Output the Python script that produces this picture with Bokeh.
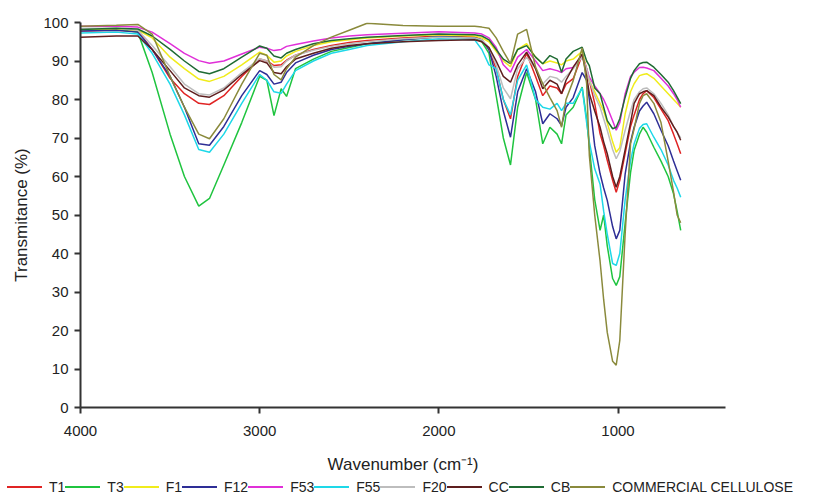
from bokeh.plotting import figure
from bokeh.layouts import column
from bokeh.models import Range1d, FixedTicker, Div
from bokeh.embed import file_html
from bokeh.resources import INLINE

# Wavenumber grid (cm^-1)
WN = [4000, 3800, 3680, 3600, 3500, 3420, 3340, 3280, 3200, 3100,
      3000, 2960, 2920, 2880, 2850, 2800, 2700, 2600, 2500, 2400,
      2200, 2000, 1800, 1760, 1720, 1680, 1640, 1600, 1560, 1510,
      1460, 1420, 1380, 1340, 1315, 1290, 1250, 1200, 1175, 1160,
      1130, 1100, 1080, 1060, 1030, 1010, 990, 960, 930, 910,
      880, 860, 840, 800, 760, 720, 690, 670, 650]

T1 = [97.8, 98, 97.8, 93, 85.5, 81.5, 79, 78.7, 81, 86,
      90.5, 90, 88.8, 89, 90.2, 91.5, 93, 94, 94.8, 95.3,
      96, 96.5, 96.3, 95.5, 93, 88, 80, 75, 86, 92,
      86, 81, 83.5, 83, 81.5, 84, 85.4, 91.5, 88, 84.9,
      79, 71.1, 68, 64.2, 59, 55.9, 59, 66, 73, 76,
      80, 81.5, 82.3, 80.5, 77.5, 74.5, 71, 68.5, 65.9]

T3 = [98.0, 98.2, 97.5, 87, 71, 60, 52.3, 54.3, 63, 74,
      86, 85, 75.8, 82.8, 80.8, 88, 90.5, 92.5, 93.5, 94.5,
      95.5, 96.3, 96, 95, 92, 81, 70, 63, 78, 87,
      80, 68.5, 72.8, 71, 68.5, 76, 78, 83.2, 75, 67.6,
      54, 46, 50, 42, 33.5, 31.7, 34, 48, 61, 66.8,
      71, 72.8, 71.5, 67.6, 64, 60, 55.5, 51, 46]

F1 = [98, 98.3, 98, 96, 91, 88, 85.3, 84.7, 86, 89,
      92.3, 91.5, 89.7, 90, 91.3, 92.5, 94, 95, 95.5, 96,
      96.5, 96.8, 96.5, 96, 95, 92.5, 90, 88.5, 93, 94.5,
      91, 89.3, 90, 89.5, 89, 90, 90.5, 92.5, 88, 84.9,
      82, 79, 77, 74, 69, 66.3, 67.5, 76.3, 82, 84.1,
      86.2, 86.5, 86.7, 85.5, 83.5, 81.5, 80, 79, 78]

F12 = [97.8, 98, 97.5, 93, 86, 78, 68.5, 68.1, 73, 81,
       87.5, 86.5, 84, 84.5, 87, 89.5, 91.5, 93, 93.8, 94.5,
       95.5, 96.3, 96, 95.5, 93, 86, 77, 70.2, 82, 88,
       82, 73.7, 76.3, 75, 73.2, 78, 80.5, 87, 85, 80,
       68, 60.7, 57, 53.8, 47, 43.8, 46, 60.7, 69, 72.8,
       77, 78.3, 79.3, 76.3, 72, 68, 64, 61.5, 59]

F53 = [99, 99, 98.8, 97.5, 94.5, 92, 90.1, 89.4, 90, 91.8,
       93.6, 93.3, 92.7, 93, 93.8, 94.3, 95.2, 96, 96.5, 96.8,
       97.2, 97.6, 97.3, 97, 96, 93.5, 89, 87.1, 91, 93,
       90, 87.5, 88, 87.5, 87, 88, 88.3, 91.5, 88, 85.8,
       83.5, 81.5, 80, 78, 74.5, 72, 74, 81.5, 86, 87.1,
       88.3, 88.4, 88.2, 87.5, 85.5, 83.5, 81.5, 80, 78]

F55 = [97.3, 97.5, 97, 92, 84, 76, 67, 66.3, 71, 79,
       86.5, 85, 82, 81.6, 84, 87.5, 90, 92, 93, 94,
       95, 95.8, 95.5, 93, 89, 88, 80, 76, 85, 89,
       80, 78, 77.5, 79, 77.1, 79, 79, 83, 74, 69,
       62, 58, 51, 45, 37.4, 36.9, 40, 54, 64, 68.5,
       72.5, 73.5, 73.7, 70.2, 67, 63, 59, 57, 54.6]

F20 = [98.5, 98.5, 98, 94, 88.5, 84, 81.5, 81.2, 83, 87,
       90.6, 90, 88.4, 88.5, 90, 91.5, 92.8, 93.8, 94.5, 95,
       95.8, 96.2, 96, 95.5, 93.5, 89, 83, 80.2, 88, 91,
       88, 84, 86, 85.5, 84.5, 86, 88, 91, 88, 85,
       81, 78, 75, 72, 67, 64.6, 66.5, 72, 77, 80,
       82, 82.8, 83, 81.5, 79, 76, 73, 71.5, 70]

CC = [96.2, 96.5, 96.5, 93, 87.5, 83, 81, 80.6, 82.5, 86.5,
      90.1, 89.5, 87, 86.7, 88.5, 90.5, 92, 93.3, 94, 94.5,
      95, 95.3, 95.5, 95, 93.5, 90, 86, 84.5, 89, 92.3,
      88, 82.8, 85, 84, 81.5, 85, 88.4, 91.8, 86, 81.5,
      77, 72.8, 69, 65.9, 60, 57.2, 60, 67, 74, 79,
      81.5, 82, 82.3, 81, 78, 75.5, 73, 71.5, 69.4]

CB = [98.2, 98.5, 98.3, 96.5, 93, 90, 87.3, 86.7, 88, 91,
      93.9, 93.3, 91.3, 90.8, 92, 93, 94.5, 95.3, 95.8, 96.2,
      96.6, 97, 96.8, 96.5, 95.5, 93, 90.5, 89.3, 93, 94,
      91, 89.3, 91.4, 90.5, 87.1, 90.5, 92.5, 93.6, 90, 88.8,
      83, 81.5, 78, 74.5, 72.4, 72.8, 75, 80.6, 85.5, 87.5,
      89.3, 89.6, 89.7, 88.4, 86.5, 84.5, 82.3, 80.6, 78.9]

COMMERCIAL = [99, 99.3, 99.5, 97, 86, 78, 71, 69.8, 75, 84,
              92, 91.5, 86.5, 85.1, 88, 91, 94, 96.2, 98, 99.8,
              99.2, 99, 99, 98.8, 98.5, 96, 92.5, 89.3, 97, 98.2,
              88.4, 84.1, 80.5, 77.1, 72.8, 80, 84.9, 93.4, 84.1, 65.5,
              50, 38, 28, 19.5, 12, 11, 17.4, 45.2, 68.5, 72.4,
              79, 81, 81.5, 79, 74, 64, 56, 50, 48]

NAMES = ["T1", "T3", "F1", "F12", "F53", "F55", "F20", "CC", "CB", "COMMERCIAL CELLULOSE"]
VALUES = [T1, T3, F1, F12, F53, F55, F20, CC, CB, COMMERCIAL]
COLORS = ["#E02424", "#1FC43F", "#F0EC1C", "#2E2E96", "#E030D8", "#1ED8E8",
          "#BDBDBD", "#5E1E1E", "#1F6B33", "#8A8A3C"]

Y_TICKS = [0, 10, 20, 30, 40, 50, 60, 70, 80, 90, 100]
X_TICKS = [4000, 3000, 2000, 1000]

FONT = "Liberation Sans"

p = figure(frame_width=645, frame_height=385,
           x_range=Range1d(4000, 400), y_range=Range1d(0, 100),
           output_backend="svg", toolbar_location=None,
           min_border_left=80, min_border_right=86,
           min_border_top=22, min_border_bottom=10)
p.outline_line_color = None
p.xgrid.visible = False
p.ygrid.visible = False
p.background_fill_color = "white"
p.border_fill_color = "white"

for vals, col in zip(VALUES, COLORS):
    p.line(WN, vals, line_color=col, line_width=1.5)

for ax in (p.xaxis[0], p.yaxis[0]):
    ax.axis_line_color = "#333333"
    ax.axis_line_width = 2
    ax.major_tick_line_color = "#333333"
    ax.major_tick_line_width = 2
    ax.major_tick_out = 6
    ax.major_tick_in = 0
    ax.minor_tick_line_color = None
    ax.major_label_text_font = FONT
    ax.major_label_text_font_size = "15px"
    ax.major_label_text_color = "#222222"
    ax.axis_label_text_font = FONT
    ax.axis_label_text_font_size = "17px"
    ax.axis_label_text_font_style = "normal"
    ax.axis_label_text_color = "#222222"

p.yaxis[0].ticker = FixedTicker(ticks=Y_TICKS)
p.xaxis[0].ticker = FixedTicker(ticks=X_TICKS)
p.yaxis[0].axis_label = "Transmitance (%)"
p.xaxis[0].axis_label = "Wavenumber (cm\u207b\u00b9)"
p.yaxis[0].major_label_standoff = 6
p.yaxis[0].axis_label_standoff = 9
p.xaxis[0].major_label_standoff = 12
p.xaxis[0].axis_label_standoff = 16

# Legend strip below the chart (HTML keys: coloured line + name)
parts = []
for n, c in zip(NAMES, COLORS):
    parts.append(
        '<span style="display:inline-block;width:35px;height:0;'
        'border-top:2px solid %s;margin-right:7px;vertical-align:middle"></span>'
        '<span style="vertical-align:middle">%s</span>' % (c, n))
legend_html = ('<div style="font-family:\'Liberation Sans\',Arial,sans-serif;'
               'font-size:14px;color:#222222;white-space:nowrap;'
               'padding-left:7px;line-height:16px">' + "".join(parts) + '</div>')
legend_div = Div(text=legend_html, width=811, height=18, margin=(2, 0, 0, 0))

layout = column(p, legend_div, spacing=0)
open("out.html", "w").write(file_html(layout, INLINE))
